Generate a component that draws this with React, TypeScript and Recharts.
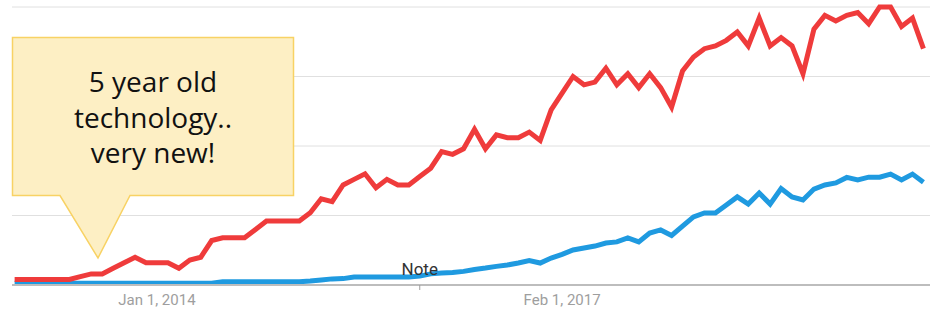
import { LineChart, Line, XAxis, YAxis, CartesianGrid, ReferenceDot } from "recharts";

// monthly search interest, Dec 2012 .. Nov 2019 (index 0..83)
const redInterest = [
  2, 2, 2, 2, 2, 2, 3, 4, 4, 6, 8, 10, 8, 8, 8, 6, 9, 10, 16, 17, 17, 17, 20, 23, 23, 23, 23, 26,
  31, 30, 36, 38, 40, 35, 38, 36, 36, 39, 42, 48, 47, 49, 56, 49, 54, 53, 53, 55, 52, 63, 69, 75,
  72, 73, 78, 72, 76, 71, 76, 71, 64, 77, 82, 85, 86, 88, 91, 86, 96, 86, 89, 86, 76, 92, 97, 95,
  97, 98, 94, 100, 100, 93, 96, 85,
];

const blueInterest = [
  0.6, 0.6, 0.6, 0.6, 0.6, 0.6, 0.6, 0.6, 0.6, 0.6, 0.6, 0.6, 0.6, 0.6, 0.6, 0.6, 0.6, 0.6, 0.6,
  1.2, 1.2, 1.2, 1.2, 1.2, 1.2, 1.2, 1.2, 1.4, 1.8, 2.2, 2.3, 2.9, 2.9, 2.9, 2.9, 2.9, 2.9, 3.2, 4,
  4.3, 4.5, 4.9, 5.6, 6.1, 6.7, 7.2, 7.9, 8.8, 7.9, 9.7, 11, 12.6, 13.3, 14, 15.1, 15.5, 16.9, 15.5,
  18.7, 19.8, 17.8, 21.2, 24.5, 25.9, 25.9, 28.8, 31.7, 29.1, 33.1, 29.1, 34.7, 31.7, 30.6, 34.5, 36,
  36.7, 38.7, 37.8, 38.8, 38.8, 39.9, 37.8, 39.9, 37,
];

const tickIndex = [13, 50];
const tickLabels = ["Jan 1, 2014", "Feb 1, 2017"];
const yTicks = [0, 25, 50, 75, 100];
const noteIndex = 37;
const calloutLines = ["5 year old", "technology..", "very new!"];

const data = redInterest.map((v, i) => ({ i, red: v, blue: blueInterest[i] }));

function NoteLabel(props: any) {
  const { viewBox } = props;
  const x = viewBox.x + viewBox.width / 2;
  const y = viewBox.y + viewBox.height / 2;
  return (
    <g>
      <line x1={x} y1={y} x2={x} y2={y + 5} stroke="#9e9e9e" strokeWidth={1} />
      <text x={x} y={y - 10} textAnchor="middle" fill="#333" fontSize={17} fontFamily="Roboto, sans-serif">
        Note
      </text>
    </g>
  );
}

export default function App() {
  return (
    <div style={{ position: "absolute", left: 0, top: 0, width: 930, height: 310, background: "#fff" }}>
      <LineChart width={930} height={310} data={data} margin={{ top: 7, right: 0, bottom: 0, left: 12 }}>
        <CartesianGrid vertical={false} stroke="#e0e0e0" />
        <XAxis
          dataKey="i"
          type="number"
          domain={[-0.24, 83.6]}
          ticks={tickIndex}
          tickFormatter={(v) => tickLabels[tickIndex.indexOf(v)] ?? ""}
          height={25}
          tickLine={false}
          tickSize={0}
          tickMargin={9}
          axisLine={{ stroke: "#bdbdbd", strokeWidth: 2 }}
          tick={{ fill: "#9e9e9e", fontSize: 15, fontFamily: "Roboto, sans-serif" }}
        />
        <YAxis hide domain={[0, 100]} ticks={yTicks} />
        <Line
          type="linear"
          dataKey="blue"
          stroke="#1f9ae0"
          strokeWidth={5}
          dot={false}
          isAnimationActive={false}
        />
        <Line
          type="linear"
          dataKey="red"
          stroke="#ef3b3b"
          strokeWidth={5}
          dot={false}
          isAnimationActive={false}
        />
        <ReferenceDot x={noteIndex} y={0} r={0} fill="none" stroke="none" label={<NoteLabel />} />
      </LineChart>
      <svg width={930} height={310} style={{ position: "absolute", left: 0, top: 0, pointerEvents: "none" }}>
        <path
          d="M12.5,37.5 L293.5,37.5 L293.5,195.5 L130,195.5 L98,258 L60,195.5 L12.5,195.5 Z"
          fill="#fdefc4"
          stroke="#f8d264"
          strokeWidth={1.5}
        />
        {calloutLines.map((t, k) => (
          <text
            key={t}
            x={153}
            y={92 + k * 35.5}
            textAnchor="middle"
            fontSize={28}
            fontFamily="'Open Sans', sans-serif"
            fill="#111"
          >
            {t}
          </text>
        ))}
      </svg>
    </div>
  );
}
